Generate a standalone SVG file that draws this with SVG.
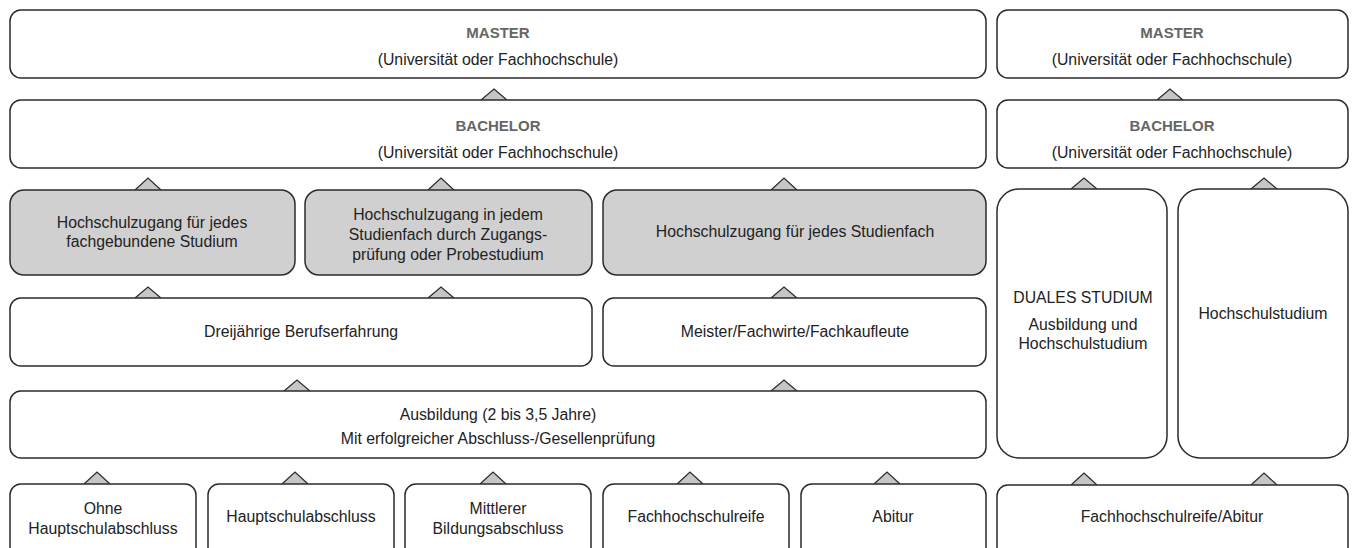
<svg xmlns="http://www.w3.org/2000/svg" width="1354" height="548" viewBox="0 0 1354 548">
<style>
.box{fill:#fff;stroke:#2b2b2b;stroke-width:1.5}
.g{fill:#d0d0d0}
.tri{fill:#c6c6c6;stroke:#2b2b2b;stroke-width:1.2;stroke-linejoin:miter}
text{font-family:"Liberation Sans",Arial,sans-serif;font-size:15.8px;fill:#222;text-anchor:middle}
.h{font-weight:bold;fill:#666;font-size:15px}
</style>
<rect width="1354" height="548" fill="#fff"/>
<g id="connectors">
<path class="tri" d="M481,100 L494,89 L507,100"/>
<path class="tri" d="M1157,100 L1170,89 L1183,100"/>
<path class="tri" d="M135,190 L148,178 L161,190"/>
<path class="tri" d="M428,190 L441,178 L454,190"/>
<path class="tri" d="M771,190 L784,178 L797,190"/>
<path class="tri" d="M1071,189 L1084,178 L1097,189"/>
<path class="tri" d="M1251,189 L1264,178 L1277,189"/>
<path class="tri" d="M135,298 L148,287 L161,298"/>
<path class="tri" d="M428,298 L441,287 L454,298"/>
<path class="tri" d="M771,298 L784,287 L797,298"/>
<path class="tri" d="M284,391 L297,380 L310,391"/>
<path class="tri" d="M771,391 L784,380 L797,391"/>
<path class="tri" d="M84,484 L97,472 L110,484"/>
<path class="tri" d="M282,484 L295,472 L308,484"/>
<path class="tri" d="M480,484 L493,472 L506,484"/>
<path class="tri" d="M677,484 L690,472 L703,484"/>
<path class="tri" d="M874,484 L887,472 L900,484"/>
<path class="tri" d="M1071,485 L1084,473 L1097,485"/>
<path class="tri" d="M1251,485 L1264,473 L1277,485"/>
</g>
<g id="master-left"><rect class="box" x="10" y="10" width="976" height="68" rx="11"/>
<text class="h" x="498" y="38">MASTER</text><text x="498" y="65">(Universität oder Fachhochschule)</text></g>
<g id="master-right"><rect class="box" x="997" y="10" width="351" height="68" rx="11"/>
<text class="h" x="1172" y="38">MASTER</text><text x="1172" y="65">(Universität oder Fachhochschule)</text></g>
<g id="bachelor-left"><rect class="box" x="10" y="100" width="976" height="68" rx="11"/>
<text class="h" x="498" y="131">BACHELOR</text><text x="498" y="158">(Universität oder Fachhochschule)</text></g>
<g id="bachelor-right"><rect class="box" x="997" y="100" width="351" height="68" rx="11"/>
<text class="h" x="1172" y="131">BACHELOR</text><text x="1172" y="158">(Universität oder Fachhochschule)</text></g>
<g id="hz-fach"><rect class="box g" x="10" y="190" width="285" height="85" rx="14"/>
<text x="152" y="228">Hochschulzugang für jedes</text><text x="152" y="247">fachgebundene Studium</text></g>
<g id="hz-pruefung"><rect class="box g" x="305" y="190" width="287" height="85" rx="14"/>
<text x="448" y="220">Hochschulzugang in jedem</text><text x="448" y="240">Studienfach durch Zugangs-</text><text x="448" y="260">prüfung oder Probestudium</text></g>
<g id="hz-jedes"><rect class="box g" x="603" y="190" width="383" height="85" rx="14"/>
<text x="795" y="237">Hochschulzugang für jedes Studienfach</text></g>
<g id="duales"><rect class="box" x="997" y="189" width="170" height="269" rx="22"/>
<text x="1083" y="303">DUALES STUDIUM</text><text x="1083" y="330">Ausbildung und</text><text x="1083" y="349">Hochschulstudium</text></g>
<g id="hochschulstudium"><rect class="box" x="1178" y="189" width="170" height="269" rx="22"/>
<text x="1263" y="319">Hochschulstudium</text></g>
<g id="berufserfahrung"><rect class="box" x="10" y="298" width="582" height="68" rx="11"/>
<text x="301" y="337">Dreijährige Berufserfahrung</text></g>
<g id="meister"><rect class="box" x="603" y="298" width="383" height="68" rx="11"/>
<text x="795" y="337">Meister/Fachwirte/Fachkaufleute</text></g>
<g id="ausbildung"><rect class="box" x="10" y="391" width="976" height="67" rx="11"/>
<text x="498" y="420">Ausbildung (2 bis 3,5 Jahre)</text><text x="498" y="444">Mit erfolgreicher Abschluss-/Gesellenprüfung</text></g>
<g id="ohne"><rect class="box" x="10" y="484" width="186" height="80" rx="11"/>
<text x="103" y="514">Ohne</text><text x="103" y="534">Hauptschulabschluss</text></g>
<g id="haupt"><rect class="box" x="208" y="484" width="186" height="80" rx="11"/>
<text x="301" y="522">Hauptschulabschluss</text></g>
<g id="mittlerer"><rect class="box" x="405" y="484" width="186" height="80" rx="11"/>
<text x="498" y="514">Mittlerer</text><text x="498" y="534">Bildungsabschluss</text></g>
<g id="fhr"><rect class="box" x="603" y="484" width="186" height="80" rx="11"/>
<text x="696" y="522">Fachhochschulreife</text></g>
<g id="abitur"><rect class="box" x="801" y="484" width="185" height="80" rx="11"/>
<text x="893" y="522">Abitur</text></g>
<g id="fhr-abitur"><rect class="box" x="997" y="485" width="351" height="80" rx="11"/>
<text x="1172" y="522">Fachhochschulreife/Abitur</text></g>
</svg>
